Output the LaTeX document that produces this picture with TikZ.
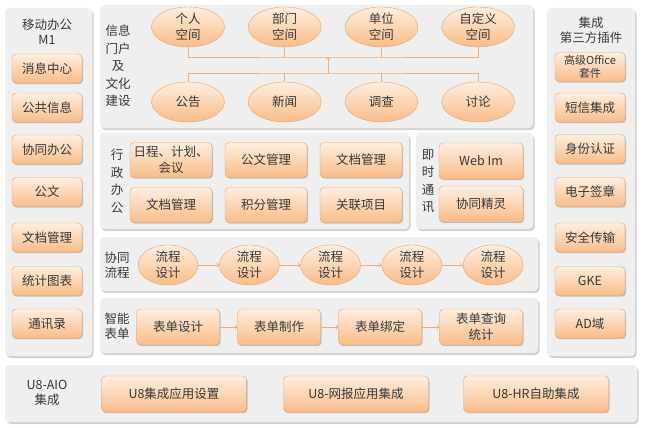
\documentclass[tikz,border=0pt]{standalone}
\usepackage{fontspec}
\setmainfont{Noto Sans CJK SC}
\usetikzlibrary{positioning, shapes.geometric, shadows, arrows}
\definecolor{panelgray}{HTML}{EFEFEF}
\definecolor{boxline}{HTML}{E9A466}
\definecolor{boxtop}{HTML}{FEEEE0}
\definecolor{boxbot}{HTML}{F9BC88}
\definecolor{linkorange}{HTML}{F2AC74}
\definecolor{txt}{HTML}{383838}
\tikzset{
  >=to,
  panel/.style={fill=panelgray, rounded corners=4pt,
    drop shadow={fill=black, opacity=0.18, shadow xshift=1.5pt, shadow yshift=-2pt}},
  box/.style={draw=boxline, rounded corners=4pt, top color=boxtop, bottom color=boxbot,
    inner sep=0pt, align=center, text=txt, font=\fontsize{12.5}{16}\selectfont,
    drop shadow={fill=black, opacity=0.2, shadow xshift=1pt, shadow yshift=-1.2pt}},
  sidebox/.style={box, minimum width=70pt, minimum height=29pt},
  bubble/.style={ellipse, draw=boxline, top color=boxtop, bottom color=boxbot,
    inner sep=0pt, align=center, text=txt, font=\fontsize{12.5}{16}\selectfont},
  tag/.style={align=center, text=txt, font=\fontsize{12.5}{15}\selectfont},
  tall/.style={tag, font=\fontsize{12.5}{17.5}\selectfont},
  link/.style={draw=linkorange, line width=0.8pt},
  flow/.style={link, ->},
}
\begin{document}
\begin{tikzpicture}[x=1pt, y=-1pt]
  \useasboundingbox (0,0) rectangle (645,428);

  % panels
  \path[panel] (5,8) rectangle (92,356);
  \path[panel] (100,5) rectangle (533,128);
  \path[panel] (100,133) rectangle (409,229);
  \path[panel] (416,133) rectangle (533,229);
  \path[panel] (100,237) rectangle (538,291);
  \path[panel] (100,298) rectangle (538,353);
  \path[panel] (547,8) rectangle (635,356);
  \path[panel] (5,365) rectangle (637,422);

  % mobile column
  \node[tag] (mtitle) at (47,32) {移动办公\\M1};
  \node[sidebox] (msg) at (47,68.5) {消息中心};
  \node[sidebox] (pub) at (47,107.5) {公共信息};
  \node[sidebox] (coop) at (47,149.5) {协同办公};
  \node[sidebox] (doc) at (47,192) {公文};
  \node[sidebox] (arch) at (47,237.5) {文档管理};
  \node[sidebox] (stat) at (47,281) {统计图表};
  \node[sidebox] (addr) at (47,323.5) {通讯录};

  % third party column
  \node[tag] (ptitle) at (591,30) {集成\\第三方插件};
  \node[sidebox, font=\fontsize{11}{13}\selectfont] (office) at (590,67) {高级Office\\套件};
  \node[sidebox] (sms) at (590,107.5) {短信集成};
  \node[sidebox] (auth) at (590,149) {身份认证};
  \node[sidebox] (sign) at (590,192) {电子签章};
  \node[sidebox] (safe) at (590,237.5) {安全传输};
  \node[sidebox] (gke) at (590,281) {GKE};
  \node[sidebox] (ad) at (590,323.5) {AD域};

  % portal
  \node[tall] (portal) at (118,66) {信息\\门户\\及\\文化\\建设};
  \node[bubble, minimum width=73pt, minimum height=40pt] (pgr) at (188,27) {个人\\空间};
  \node[bubble, minimum width=73pt, minimum height=40pt, right of=pgr, node distance=96.7pt] (pdep) {部门\\空间};
  \node[bubble, minimum width=73pt, minimum height=40pt, right of=pdep, node distance=96.7pt] (punit) {单位\\空间};
  \node[bubble, minimum width=73pt, minimum height=40pt, right of=punit, node distance=96.7pt] (pself) {自定义\\空间};
  \node[bubble, minimum width=73pt, minimum height=40pt] (ngg) at (188,102) {公告};
  \node[bubble, minimum width=73pt, minimum height=40pt, right of=ngg, node distance=96.7pt] (nnews) {新闻};
  \node[bubble, minimum width=73pt, minimum height=40pt, right of=nnews, node distance=96.7pt] (nsurvey) {调查};
  \node[bubble, minimum width=73pt, minimum height=40pt, right of=nsurvey, node distance=96.7pt] (ntalk) {讨论};

  \coordinate (upbar) at (328,57);
  \coordinate (lowbar) at (328,73);
  \draw[link] (pgr.south) |- (upbar) -| (pself.south);
  \draw[link] (pdep.south) -- (pdep.south |- upbar);
  \draw[link] (punit.south) -- (punit.south |- upbar);
  \draw[link] (ngg.north) |- (lowbar) -| (ntalk.north);
  \draw[link] (nnews.north) -- (nnews.north |- lowbar);
  \draw[link] (nsurvey.north) -- (nsurvey.north |- lowbar);
  \draw[flow] (lowbar) -- (upbar);

  % office work
  \node[tall] (admin) at (117,181) {行\\政\\办\\公};
  \node[box, minimum width=82pt, minimum height=35pt] (plan) at (171,160) {日程、计划、\\会议};
  \node[box, minimum width=82pt, minimum height=35pt, right of=plan, node distance=95pt] (docmgr) {公文管理};
  \node[box, minimum width=82pt, minimum height=35pt, right of=docmgr, node distance=95pt] (filemgr) {文档管理};
  \node[box, minimum width=82pt, minimum height=35pt, below of=plan, node distance=45pt] (filemgr2) {文档管理};
  \node[box, minimum width=82pt, minimum height=35pt, right of=filemgr2, node distance=95pt] (score) {积分管理};
  \node[box, minimum width=82pt, minimum height=35pt, right of=score, node distance=95pt] (linked) {关联项目};

  % instant messaging
  \node[tall] (im) at (428,181) {即\\时\\通\\讯};
  \node[box, minimum width=84pt, minimum height=36pt] (webim) at (481,161) {Web Im};
  \node[box, minimum width=84pt, minimum height=36pt, below of=webim, node distance=43pt] (sprite) {协同精灵};

  % workflow
  \node[tag] (wf) at (117,265.5) {协同\\流程};
  \node[bubble, minimum width=60pt, minimum height=40pt] (f1) at (168,265) {流程\\设计};
  \node[bubble, minimum width=60pt, minimum height=40pt, right of=f1, node distance=81.3pt] (f2) {流程\\设计};
  \node[bubble, minimum width=60pt, minimum height=40pt, right of=f2, node distance=81.3pt] (f3) {流程\\设计};
  \node[bubble, minimum width=60pt, minimum height=40pt, right of=f3, node distance=81.3pt] (f4) {流程\\设计};
  \node[bubble, minimum width=60pt, minimum height=40pt, right of=f4, node distance=81.3pt] (f5) {流程\\设计};
  \draw[flow] (f1) -- (f2);
  \draw[flow] (f2) -- (f3);
  \draw[flow] (f3) -- (f4);
  \draw[flow] (f4) -- (f5);

  % smart forms
  \node[tag] (sf) at (117,326) {智能\\表单};
  \node[box, minimum width=83pt, minimum height=36pt] (s1) at (178,327) {表单设计};
  \node[box, minimum width=83pt, minimum height=36pt, right of=s1, node distance=101pt] (s2) {表单制作};
  \node[box, minimum width=83pt, minimum height=36pt, right of=s2, node distance=101pt] (s3) {表单绑定};
  \node[box, minimum width=83pt, minimum height=36pt, right of=s3, node distance=101pt] (s4) {表单查询\\统计};
  \draw[flow] (s1) -- (s2);
  \draw[flow] (s2) -- (s3);
  \draw[flow] (s3) -- (s4);

  % U8 integration
  \node[tag] (aio) at (47,393) {U8-AIO\\集成};
  \node[box, minimum width=145pt, minimum height=36pt] (u8set) at (174,394) {U8集成应用设置};
  \node[box, minimum width=145pt, minimum height=36pt, right of=u8set, node distance=182pt] (u8net) {U8-网报应用集成};
  \node[box, minimum width=145pt, minimum height=36pt, right of=u8net, node distance=180pt] (u8hr) {U8-HR自助集成};
\end{tikzpicture}
\end{document}
